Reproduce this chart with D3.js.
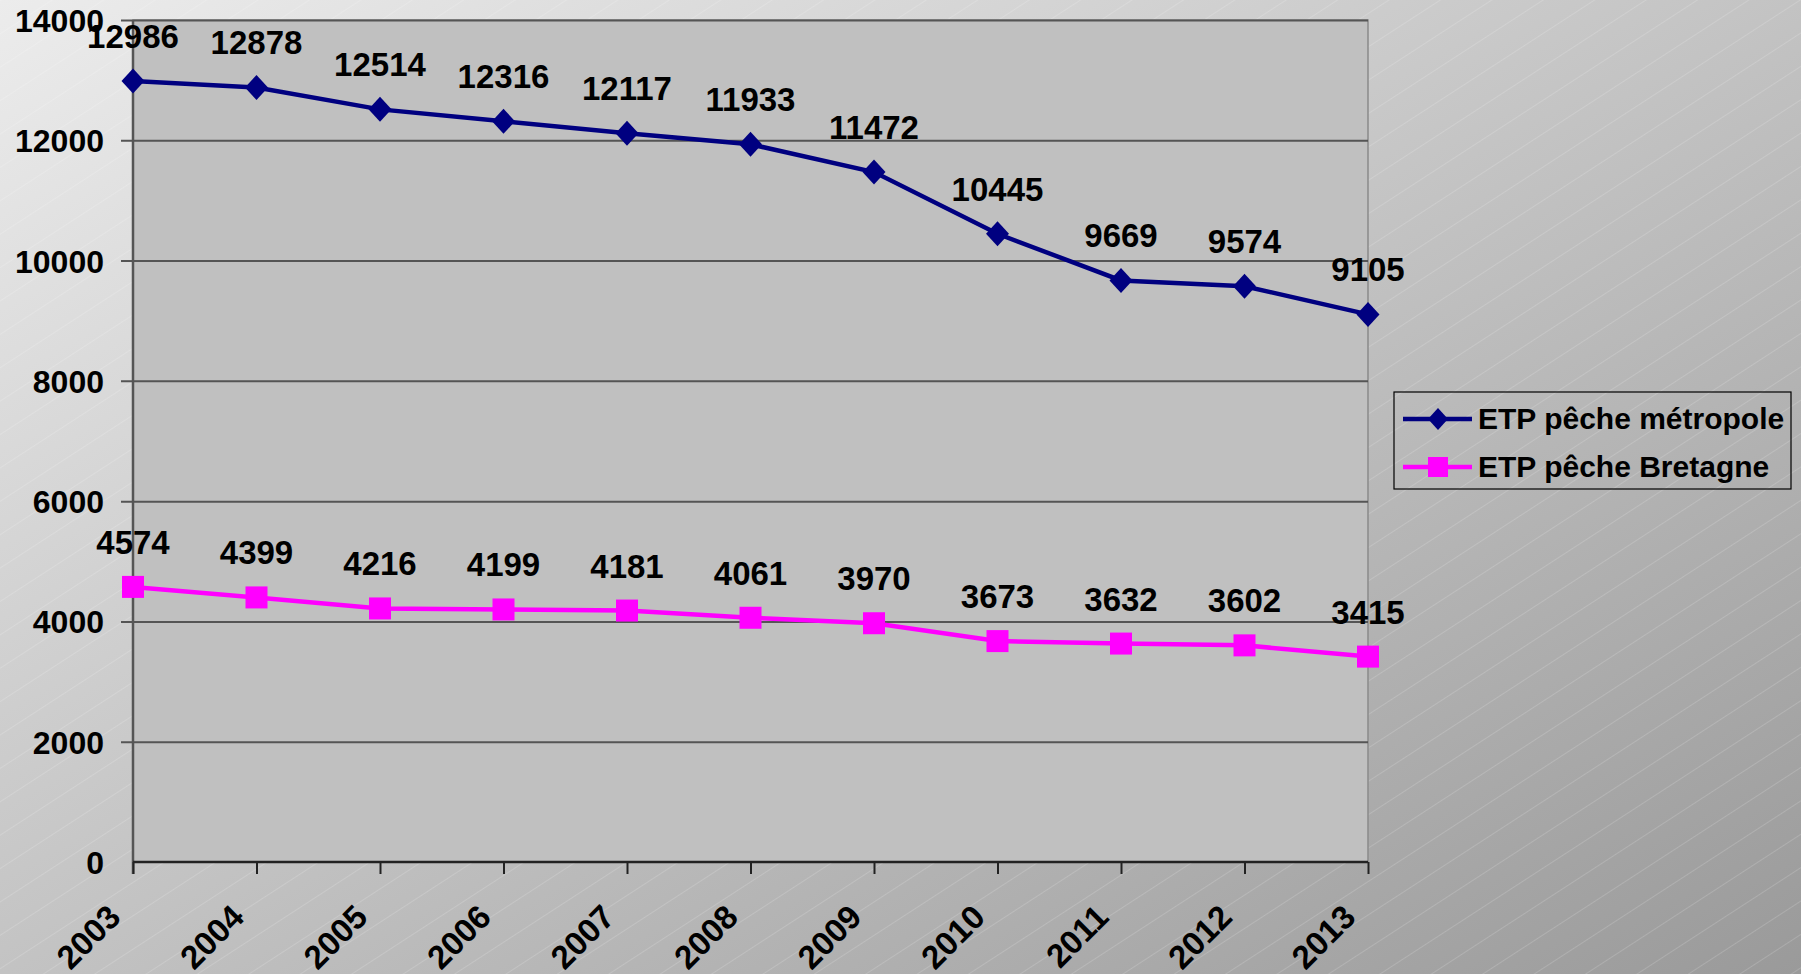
<!DOCTYPE html>
<html lang="fr">
<head>
<meta charset="utf-8">
<title>ETP pêche</title>
<script src="https://d3js.org/d3.v7.min.js"></script>
<style>
  html, body { margin: 0; padding: 0; overflow: hidden; }
  body { font-family: "Liberation Sans", Arial, Helvetica, sans-serif; }
  text { font-weight: bold; fill: #000; }
</style>
</head>
<body>
<svg id="chart" width="1801" height="974"></svg>
<script>
// data
const years = ["2003","2004","2005","2006","2007","2008","2009","2010","2011","2012","2013"];
const metropole = [12986, 12878, 12514, 12316, 12117, 11933, 11472, 10445, 9669, 9574, 9105];
const bretagne = [4574, 4399, 4216, 4199, 4181, 4061, 3970, 3673, 3632, 3602, 3415];
const yTicks = [0, 2000, 4000, 6000, 8000, 10000, 12000, 14000];
const seriesNames = ["ETP pêche métropole", "ETP pêche Bretagne"];

const svg = d3.select("#chart");
const W = +svg.attr("width"), H = +svg.attr("height");
const plot = {left: 133, right: 1368, top: 20, bottom: 862};

// background: grey gradient + faint diagonal lines
const defs = svg.append("defs");
const grad = defs.append("linearGradient").attr("id", "bg")
  .attr("x1", 0).attr("y1", 0).attr("x2", 1).attr("y2", 1);
grad.append("stop").attr("offset", 0).attr("stop-color", "#ececec");
grad.append("stop").attr("offset", 1).attr("stop-color", "#9a9a9a");

const hatch = defs.append("pattern").attr("id", "hatch")
  .attr("patternUnits", "userSpaceOnUse")
  .attr("width", 28).attr("height", 28)
  .attr("patternTransform", "rotate(-33)");
hatch.append("line")
  .attr("x1", 0).attr("y1", 0).attr("x2", 28).attr("y2", 0)
  .attr("stroke", "#ffffff").attr("stroke-opacity", 0.32).attr("stroke-width", 1);

svg.append("rect").attr("width", W).attr("height", H).attr("fill", "url(#bg)");
svg.append("rect").attr("width", W).attr("height", H).attr("fill", "url(#hatch)");

// scales
const x = d3.scalePoint().domain(years).range([plot.left, plot.right]);
const y = d3.scaleLinear().domain([0, 14000]).range([plot.bottom, plot.top]);

// plot area
svg.append("rect")
  .attr("x", plot.left).attr("y", plot.top)
  .attr("width", plot.right - plot.left).attr("height", plot.bottom - plot.top)
  .attr("fill", "#c0c0c0").attr("stroke", "#8a8a8a").attr("stroke-width", 1.5);

// y axis with gridlines
const yAxis = svg.append("g")
  .attr("transform", `translate(${plot.left},0)`)
  .call(d3.axisLeft(y).tickValues(yTicks).tickSize(12).tickPadding(16).tickFormat(d3.format("d")));
yAxis.select(".domain").remove();
yAxis.selectAll(".tick line").attr("stroke", "#555").attr("stroke-width", 2)
  .attr("x2", d => d === 0 ? -12 : plot.right - plot.left).attr("x1", -12);
yAxis.selectAll(".tick text")
  .style("font-size", "32px").style("font-family", "'Liberation Sans', Arial, sans-serif")
  .attr("x", -29).attr("dy", "0.36em");

// left axis line
svg.append("line")
  .attr("x1", plot.left).attr("x2", plot.left)
  .attr("y1", plot.top).attr("y2", plot.bottom + 12)
  .attr("stroke", "#555").attr("stroke-width", 2.5);

// x axis
const xAxis = svg.append("g")
  .attr("transform", `translate(0,${plot.bottom})`)
  .call(d3.axisBottom(x).tickSize(12).tickSizeOuter(0));
xAxis.select(".domain").attr("stroke", "#222").attr("stroke-width", 2.5)
  .attr("d", `M${plot.left},0H${plot.right}`);
xAxis.selectAll(".tick line").attr("stroke", "#222").attr("stroke-width", 2);
xAxis.selectAll(".tick text")
  .style("font-size", "33px").style("font-family", "'Liberation Sans', Arial, sans-serif")
  .attr("text-anchor", "end")
  .attr("dy", null)
  .attr("y", 0)
  .attr("transform", "translate(-11,57) rotate(-45)");

// series
const series = [
  {name: seriesNames[0], values: metropole, color: "#000080", shape: d3.symbolDiamond},
  {name: seriesNames[1], values: bretagne, color: "#ff00ff", shape: d3.symbolSquare}
];

const line = d3.line().x((d, i) => x(years[i])).y(d => y(d));

function marker(g, s, cx, cy) {
  if (s.shape === d3.symbolSquare) {
    g.append("rect").attr("x", cx - 11).attr("y", cy - 11)
      .attr("width", 22).attr("height", 22).attr("fill", s.color);
  } else {
    g.append("path")
      .attr("d", `M${cx},${cy - 12.5}L${cx + 11.5},${cy}L${cx},${cy + 12.5}L${cx - 11.5},${cy}Z`)
      .attr("fill", s.color);
  }
}

series.forEach(s => {
  const g = svg.append("g");
  g.append("path").datum(s.values)
    .attr("d", line).attr("fill", "none")
    .attr("stroke", s.color).attr("stroke-width", 4.5);
  s.values.forEach((v, i) => marker(g, s, x(years[i]), y(v)));
  g.selectAll("text.lbl").data(s.values).join("text")
    .attr("class", "lbl")
    .attr("x", (d, i) => x(years[i]))
    .attr("y", d => y(d) - 33)
    .attr("text-anchor", "middle")
    .style("font-size", "33px")
    .text(d => d);
});

// legend
const legend = svg.append("g");
legend.append("rect")
  .attr("x", 1394).attr("y", 392).attr("width", 397).attr("height", 97)
  .attr("fill", "none").attr("stroke", "#000").attr("stroke-width", 1.2);
series.forEach((s, i) => {
  const cy = 419 + i * 48;
  legend.append("line")
    .attr("x1", 1403).attr("x2", 1472).attr("y1", cy).attr("y2", cy)
    .attr("stroke", s.color).attr("stroke-width", 4.5);
  if (s.shape === d3.symbolSquare) {
    legend.append("rect").attr("x", 1428).attr("y", cy - 10)
      .attr("width", 20).attr("height", 20).attr("fill", s.color);
  } else {
    legend.append("path")
      .attr("d", `M1438,${cy - 11}L1448,${cy}L1438,${cy + 11}L1428,${cy}Z`)
      .attr("fill", s.color);
  }
  legend.append("text")
    .attr("x", 1478).attr("y", cy + 10)
    .style("font-size", "30px")
    .text(s.name);
});
</script>
</body>
</html>
